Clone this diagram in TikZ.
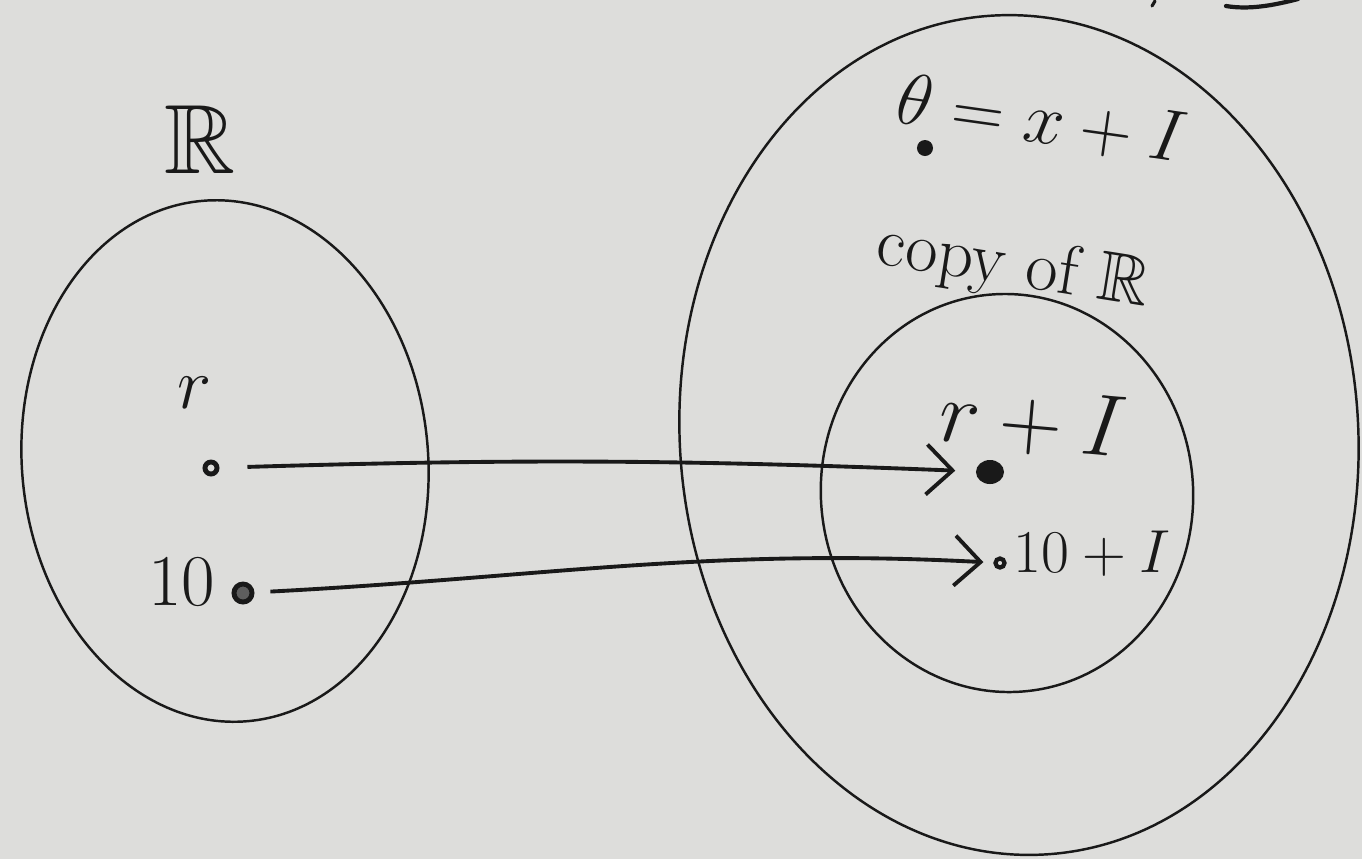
\documentclass[tikz,border=0pt]{standalone}
\usepackage{amsmath}
\usepackage{amssymb}
\usepackage{xcolor}
\usetikzlibrary{shapes.geometric,arrows.meta,positioning}

\definecolor{board}{RGB}{221,221,219}
\definecolor{ink}{RGB}{25,25,25}

\begin{document}
\begin{tikzpicture}[
    x=0.01cm, y=-0.01cm,
    set/.style={ellipse, draw=ink, line width=0.7pt, inner sep=0pt},
    pt/.style={circle, draw=ink, line width=1.4pt, inner sep=0pt, minimum size=0.12cm},
    bigpt/.style={ellipse, fill=ink, inner sep=0pt, minimum width=0.28cm, minimum height=0.24cm},
    lbl/.style={text=ink, inner sep=1pt},
    arrow/.style={draw=ink, line width=1.1pt, -{Straight Barb[length=2.6mm,width=5mm]}}
]

\useasboundingbox (0,0) rectangle (1362,859);
\fill[board] (0,0) rectangle (1362,859);

% Sets
\node[set, minimum width=4.06cm, minimum height=5.22cm, rotate=5] (R) at (225,461) {};
\node[set, minimum width=6.78cm, minimum height=8.4cm, rotate=4] (quot) at (1019,435) {};
\node[set, minimum width=3.72cm, minimum height=3.98cm, rotate=5] (copy) at (1007,493) {};

% Labels
\node[lbl, font=\fontsize{28}{32}\selectfont] (Rlbl) at (200,140) {$\mathbb{R}$};
\node[lbl, font=\fontsize{20}{24}\selectfont] (rlbl) at (195,393) {$r$};
\node[lbl, font=\fontsize{22}{26}\selectfont] (tenlbl) at (182,582) {$10$};
\node[lbl, font=\fontsize{20}{24}\selectfont, rotate=-8] (thetalbl) at (1042,120) {$\theta = x + I$};
\node[lbl, font=\fontsize{20}{24}\selectfont, rotate=-9] (copylbl) at (1013,268) {copy of $\mathbb{R}$};
\node[lbl, font=\fontsize{24}{28}\selectfont, rotate=-5] (rIlbl) at (1033,422) {$r + I$};
\node[lbl, font=\fontsize{19}{23}\selectfont] (tenIlbl) at (1092,554) {$10 + I$};

% Points
\node[pt] (r) at (211,468) {};
\node[pt, fill=ink!70, minimum size=0.18cm] (ten) at (243,593) {};
\node[bigpt] (rI) at (990,472) {};
\node[pt, minimum size=0.09cm, line width=1.2pt] (tenI) at (1000,563) {};
\node[circle, fill=ink, minimum size=0.16cm, inner sep=0pt] (x) at (925,148) {};

% Arrows
\draw[arrow, shorten <=0.28cm, shorten >=0.2cm] (r) to[bend left=2] (rI);
\draw[arrow, shorten <=0.16cm, shorten >=0.1cm] (ten) to[out=3, in=177] (tenI);

% cut-off writing at the top edge
\draw[ink, line width=1.2pt, line cap=round] (1226,6) .. controls (1250,10) and (1275,5) .. (1298,-1);
\draw[ink, line width=0.9pt, line cap=round] (1152,6) -- (1155,1);

\end{tikzpicture}
\end{document}
